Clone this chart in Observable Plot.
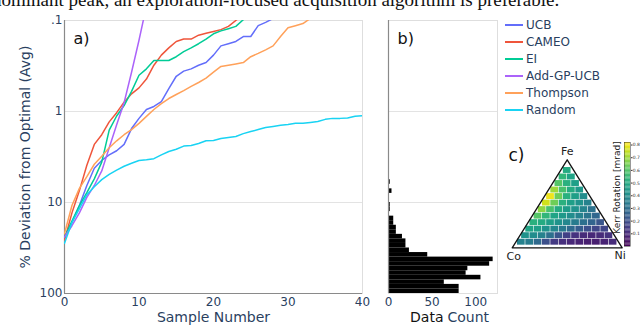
<!DOCTYPE html>
<html><head><meta charset="utf-8">
<script src="https://cdn.jsdelivr.net/npm/d3@7"></script>
<script src="https://cdn.jsdelivr.net/npm/@observablehq/plot@0.6"></script>
<style>
body{margin:0;background:#fff;}
#root{position:relative;width:640px;height:330px;overflow:hidden;background:#fff;font-family:"DejaVu Sans",sans-serif;}
.abs{position:absolute;}
.leg{position:absolute;left:505px;font-size:12px;color:#2a3f5f;white-space:nowrap;line-height:14px;}
.leg span.sw{display:inline-block;width:18px;height:2px;vertical-align:middle;margin-right:3px;position:relative;top:-1px;}
</style></head><body><div id="root"></div>
<script>
// ---------- data ----------
const seriesNames = ["UCB", "CAMEO", "EI", "Add-GP-UCB", "Thompson", "Random"];
const seriesColors = ["#636efa", "#ef553b", "#00cc96", "#ab63fa", "#ffa15a", "#19d3f3"];
// % deviation from optimal (avg), one value per sample number starting at 0
const ucb = [24, 16.6, 10.8, 6.5, 4.2, 3.45, 3.0, 2.7, 2.3, 1.54, 1.19, 0.95, 0.88, 0.78, 0.56, 0.41, 0.36, 0.34, 0.31, 0.29, 0.24, 0.19, 0.18, 0.17, 0.15, 0.15, 0.114, 0.105, 0.095, 0.085];
const cameo = [26, 13, 7.4, 3.9, 2.3, 1.8, 1.3, 1.03, 0.79, 0.64, 0.55, 0.44, 0.31, 0.24, 0.20, 0.17, 0.16, 0.16, 0.145, 0.138, 0.132, 0.126, 0.116, 0.1, 0.085];
const ei = [24, 16, 10.8, 7.8, 5.5, 3.6, 1.6, 1.12, 0.86, 0.6, 0.40, 0.34, 0.275, 0.275, 0.275, 0.25, 0.22, 0.20, 0.18, 0.16, 0.14, 0.13, 0.123, 0.116, 0.098, 0.08];
const addGpUcb = [24, 18, 13, 8.8, 6.5, 4.5, 2.5, 1.4, 0.8, 0.37, 0.165, 0.069];
const thompson = [22, 10.8, 7.0, 5.2, 3.8, 3.1, 2.5, 2.1, 1.8, 1.58, 1.35, 1.13, 0.95, 0.82, 0.72, 0.65, 0.59, 0.53, 0.48, 0.43, 0.37, 0.32, 0.31, 0.30, 0.29, 0.25, 0.23, 0.21, 0.19, 0.15, 0.12, 0.114, 0.108, 0.095, 0.085];
const random = [28, 16.6, 11.7, 8.2, 6.7, 5.6, 4.9, 4.4, 4.0, 3.7, 3.45, 3.4, 3.3, 3.0, 2.75, 2.6, 2.4, 2.36, 2.25, 2.1, 2.08, 1.98, 1.93, 1.88, 1.75, 1.66, 1.58, 1.5, 1.46, 1.42, 1.39, 1.35, 1.35, 1.32, 1.29, 1.22, 1.19, 1.19, 1.18, 1.13, 1.11];
const xTicks = [0, 10, 20, 30, 40];
const yTicks = [0.1, 1, 10, 100];
const yTickLabels = [".1", "1", "10", "100"];

// histogram (panel b): bin edges as log10 exponents (from 100 upward) and counts
const binEdgeExp = [2.00, 1.95, 1.90, 1.85, 1.80, 1.75, 1.70, 1.65, 1.60, 1.55, 1.50, 1.45, 1.40, 1.35, 1.30, 1.25, 1.20, 1.15, 1.10, 1.05, 1.00, 0.95, 0.90, 0.85, 0.80, 0.75, 0.70, 0.65, 0.60];
const binCounts = [81, 81, 64, 106, 89, 91, 116, 120, 45, 24, 20, 20, 16, 9, 9, 6, 6, 0, 2, 2, 0, 0, 4, 0, 2, 0, 1, 1];
const countTicks = [0, 50, 100];

// panel c: Kerr rotation [mrad] on the Fe-Co-Ni ternary, rows from Fe-poor (bottom) to Fe-rich (top), Co side -> Ni side
const kerrRows = [
  [0.36, 0.34, 0.28, 0.20, 0.14, 0.11, 0.09, 0.08, 0.07, 0.07, 0.08, 0.10],
  [0.42, 0.40, 0.36, 0.30, 0.22, 0.16, 0.12, 0.10, 0.09, 0.10, 0.12],
  [0.48, 0.46, 0.42, 0.38, 0.33, 0.28, 0.24, 0.20, 0.17, 0.17],
  [0.52, 0.50, 0.46, 0.42, 0.38, 0.34, 0.30, 0.26, 0.22],
  [0.60, 0.54, 0.48, 0.44, 0.40, 0.36, 0.32, 0.27],
  [0.68, 0.58, 0.50, 0.45, 0.42, 0.37, 0.31],
  [0.76, 0.64, 0.52, 0.46, 0.42, 0.36],
  [0.80, 0.64, 0.52, 0.46, 0.40],
  [0.70, 0.58, 0.50, 0.44],
  [0.60, 0.52, 0.46],
  [0.54, 0.48],
  [0.50]
];
const corners = [{name: "Co", fe: 0, ni: 0}, {name: "Ni", fe: 0, ni: 1}, {name: "Fe", fe: 1, ni: 0}];
const kerrDomain = [0, 0.82];
const kerrTicks = [0.1, 0.2, 0.3, 0.4, 0.5, 0.6, 0.7, 0.8];

// ---------- layout helpers ----------
const root = document.getElementById("root");
function place(node, left, top) {
  const d = document.createElement("div");
  d.className = "abs"; d.style.left = left + "px"; d.style.top = top + "px";
  d.appendChild(node); root.appendChild(d); return d;
}
const FONT = "DejaVu Sans";
const NAVY = "#2a3f5f";
const baseStyle = {fontFamily: FONT, background: "none", overflow: "visible", color: NAVY};

// top cropped paragraph text
const para = document.createElement("div");
para.textContent = "dominant peak, an exploration-focused acquisition algorithm is preferable.";
para.style.cssText = "position:absolute;left:-8px;top:-9.6px;font-family:'Liberation Serif',serif;font-size:19px;line-height:19px;color:#111;white-space:nowrap;";
root.appendChild(para);

// ---------- panel a ----------
const tidy = [];
[ucb, cameo, ei, addGpUcb, thompson, random].forEach((arr, k) =>
  arr.forEach((v, i) => tidy.push({series: seriesNames[k], sample: i, value: v})));

const plotA = Plot.plot({
  width: 370, height: 330, marginLeft: 64, marginRight: 8, marginTop: 20, marginBottom: 37,
  style: baseStyle,
  x: {domain: [0, 40], axis: null},
  y: {type: "log", domain: [0.1, 100], reverse: true, axis: null},
  color: {domain: seriesNames, range: seriesColors},
  marks: [
    Plot.gridY([1, 10], {stroke: "#e3e3e3", strokeOpacity: 1}),
    Plot.frame({stroke: "#dedede"}),
    Plot.ruleX([0], {stroke: "#8a8a8a", strokeWidth: 1.2}),
    Plot.ruleY([100], {stroke: "#8a8a8a", strokeWidth: 1.2}),
    Plot.axisX({ticks: xTicks, tickSize: 0, tickPadding: 4, fontSize: 12, label: null}),
    Plot.axisY({ticks: yTicks, tickSize: 0, tickPadding: 2, fontSize: 12, label: null,
      tickFormat: d => yTickLabels[yTicks.indexOf(d)]}),
    Plot.line(tidy, {x: "sample", y: "value", z: "series", stroke: "series", strokeWidth: 1.5, clip: true}),
    Plot.text(["% Deviation from Optimal (Avg)"], {frameAnchor: "left", dx: -39, rotate: -90, textAnchor: "middle", fontSize: 14, fill: NAVY}),
    Plot.text(["Sample Number"], {frameAnchor: "bottom", dy: 28, fontSize: 14, fill: NAVY}),
    Plot.text(["a)"], {frameAnchor: "top-left", dx: 9, dy: 12, lineAnchor: "top", textAnchor: "start", fontSize: 16, fill: "#111"})
  ]
});
place(plotA, 0, 0);

// ---------- panel b ----------
const bins = binCounts.map((c, i) => ({lo: Math.pow(10, binEdgeExp[i + 1]), hi: Math.pow(10, binEdgeExp[i]), count: c}));
const plotB = Plot.plot({
  width: 130, height: 330, marginLeft: 18, marginRight: 3, marginTop: 20, marginBottom: 37,
  style: baseStyle,
  x: {domain: [0, 125], axis: null},
  y: {type: "log", domain: [0.1, 100], reverse: true, axis: null},
  marks: [
    Plot.gridY([1, 10], {stroke: "#e3e3e3", strokeOpacity: 1}),
    Plot.frame({stroke: "#dedede"}),
    Plot.rect(bins, {x1: () => 0, x2: "count", y1: "lo", y2: "hi", fill: "black"}),
    Plot.ruleX([0], {stroke: "#8a8a8a", strokeWidth: 1.2}),
    Plot.axisX({ticks: countTicks, tickSize: 0, tickPadding: 4, fontSize: 12, label: null}),
    Plot.text(["Data"], {frameAnchor: "bottom", dx: 0.5, dy: 28, textAnchor: "end", fontSize: 14, fill: "#111"}),
    Plot.text(["Count"], {frameAnchor: "bottom", dx: 4.5, dy: 28, textAnchor: "start", fontSize: 14, fill: NAVY}),
    Plot.text(["b)"], {frameAnchor: "top-left", dx: 9, dy: 12, lineAnchor: "top", textAnchor: "start", fontSize: 16, fill: "#111"})
  ]
});
place(plotB, 370, 0);

// ---------- legend ----------
seriesNames.forEach((name, k) => {
  const d = document.createElement("div");
  d.className = "leg";
  d.style.top = (25 + 17 * k - 7) + "px";
  d.innerHTML = `<span class="sw" style="background:${seriesColors[k]}"></span>${name}`;
  root.appendChild(d);
});

// ---------- panel c (ternary) ----------
const N = kerrRows.length;
const X0 = 0.045, W = 0.91 / N, Y0 = 0.023, H = 0.77 / N, SQ = 0.866;
const cells = [];
kerrRows.forEach((row, r) => row.forEach((v, c) => cells.push({r, c, v})));
const tx = d => d.ni + d.fe / 2, ty = d => d.fe * SQ;
const plotC = Plot.plot({
  width: 140, height: 125, marginLeft: 0, marginRight: 0, marginTop: 0, marginBottom: 0,
  style: {...baseStyle, color: "#222"},
  x: {domain: [0, 1], range: [11.7, 121.7], axis: null},
  y: {domain: [0, SQ], range: [112.3, 24.3], axis: null},
  color: {type: "linear", scheme: "viridis", domain: kerrDomain},
  marks: [
    Plot.rect(cells, {
      x1: d => X0 + (d.r / 2 + d.c) * W, x2: d => X0 + (d.r / 2 + d.c + 1) * W,
      y1: d => Y0 + d.r * H, y2: d => Y0 + (d.r + 1) * H, fill: "v", inset: 0.3
    }),
    Plot.line([...corners, corners[0]], {x: tx, y: ty, stroke: "#111", strokeWidth: 1.3}),
    Plot.text(corners.filter(d => d.name === "Fe"), {x: tx, y: ty, text: "name", dy: -8, fontSize: 11, fill: "#222"}),
    Plot.text(corners.filter(d => d.name === "Co"), {x: tx, y: ty, text: "name", dx: 1.5, dy: 9, fontSize: 11, fill: "#222"}),
    Plot.text(corners.filter(d => d.name === "Ni"), {x: tx, y: ty, text: "name", dx: -2, dy: 8, fontSize: 11, fill: "#222"}),
    Plot.text(["c)"], {frameAnchor: "top-left", dx: 8, dy: 13, lineAnchor: "top", textAnchor: "start", fontSize: 17, fill: "#111"})
  ]
});
place(plotC, 500, 135);

// ---------- colorbar ----------
const cbSteps = d3.range(0, 0.82, 0.01);
const plotD = Plot.plot({
  width: 42, height: 125, marginLeft: 26, marginRight: 10, marginTop: 12, marginBottom: 9,
  style: {...baseStyle, color: "#333"},
  x: {domain: [0, 1], axis: null},
  y: {domain: kerrDomain, axis: null},
  color: {type: "linear", scheme: "viridis", domain: kerrDomain},
  marks: [
    Plot.rect(cbSteps, {x1: () => 0, x2: () => 1, y1: d => d, y2: d => Math.min(d + 0.01, 0.82), fill: d => d + 0.005}),
    Plot.frame({stroke: "#333", strokeWidth: 0.5}),
    Plot.axisY({anchor: "right", ticks: kerrTicks, tickSize: 1.5, tickPadding: 0.8, fontSize: 4.5, label: null}),
    Plot.text(["Kerr Rotation [mrad]"], {frameAnchor: "left", dx: -7, dy: -7, rotate: -90, textAnchor: "middle", fontSize: 9, fill: "#222"})
  ]
});
place(plotD, 598, 130);
</script></body></html>
